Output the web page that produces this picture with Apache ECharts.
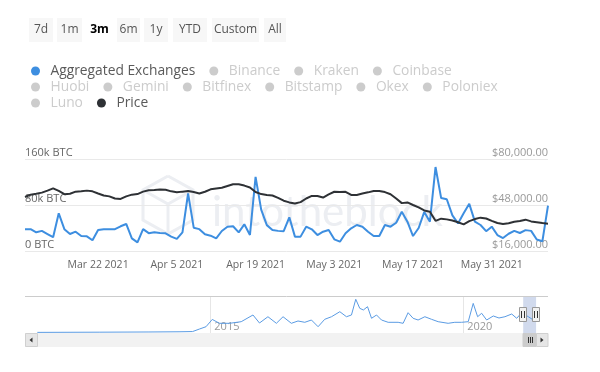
<!DOCTYPE html>
<html>
<head>
<meta charset="utf-8">
<script src="https://cdn.jsdelivr.net/npm/echarts@6/dist/echarts.min.js"></script>
<style>
html,body{margin:0;padding:0;background:#fff;}
#chart{width:600px;height:372px;}
</style>
</head>
<body>
<div id="chart"></div>
<script>
// ---------- DATA ----------
const startDate = '2021-03-09';
const aggregatedExchanges = [
  38000, 38000, 32500, 35000, 29500, 24000, 65500, 38000, 29500, 33600,
  26000, 25500, 18600, 36500, 37700, 37700, 38000, 43000, 47000, 22000,
  15000, 38000, 31000, 32500, 31300, 30800, 25000, 21000, 32500, 100000,
  40500, 38000, 29000, 26600, 22000, 34800, 42300, 43000, 32500, 46400,
  27800, 129000, 72000, 45000, 36500, 35000, 34500, 58600, 25000, 25000,
  42300, 37700, 27800, 33600, 36500, 20300, 16200, 30800, 39500, 45200,
  42300, 33600, 26000, 26000, 45200, 42300, 49200, 68300, 51000, 26000,
  40000, 68000, 51000, 146000, 92000, 90000, 62000, 48000, 65600, 82000,
  51000, 45200, 34500, 42300, 27800, 22500, 30000, 35000, 31300, 36300,
  35000, 20000, 17000, 79000
];
const price = [
  53600, 55200, 55800, 56600, 58000, 59600, 57800, 55500, 55800, 57300,
  57500, 58000, 57500, 56000, 54600, 54000, 52500, 52200, 54000, 55200,
  55600, 57300, 58200, 58400, 58800, 58600, 57500, 56800, 57300, 57700,
  57000, 56000, 57200, 58900, 59500, 60000, 61200, 62400, 62400, 61500,
  60200, 57000, 55600, 55000, 54600, 53000, 51000, 49800, 49000, 50000,
  52500, 54300, 54300, 53200, 55400, 57200, 57000, 57200, 55000, 55000,
  56000, 56800, 57700, 57800, 57000, 55500, 52500, 49300, 49800, 48000,
  46300, 44200, 43300, 37000, 38500, 38000, 37200, 36000, 34500, 36800,
  38200, 39200, 38600, 37000, 35500, 34800, 35300, 36400, 36900, 37800,
  36600, 36000, 35400, 35000
];
const xTickLabels = ['Mar 22 2021', 'Apr 5 2021', 'Apr 19 2021', 'May 3 2021', 'May 17 2021', 'May 31 2021'];
const rightTicks = [16000, 48000, 80000];
const legendRow1 = ['Aggregated Exchanges', 'Binance', 'Kraken', 'Coinbase'];
const legendRow2 = ['Huobi', 'Gemini', 'Bitfinex', 'Bitstamp', 'Okex', 'Poloniex'];
const legendRow3 = ['Luno', 'Price'];
const rangeButtons = ['7d', '1m', '3m', '6m', '1y', 'YTD', 'Custom', 'All'];
const selectedButton = '3m';
// navigator (full history) – approximate, in BTC
const navDates = [
  '2011-08-01', '2012-10-20', '2013-10-15', '2014-05-20', '2014-08-26', '2014-10-15', '2014-12-01',
  '2015-01-15', '2015-03-08', '2015-05-20', '2015-08-12', '2015-11-05', '2015-12-22', '2016-02-21',
  '2016-04-22', '2016-06-09', '2016-08-08', '2016-09-25', '2016-11-13', '2016-12-31', '2017-02-17',
  '2017-04-06', '2017-05-25', '2017-07-24', '2017-09-10', '2017-10-16', '2017-11-16', '2017-12-15',
  '2018-01-10', '2018-02-09', '2018-03-10', '2018-04-15', '2018-05-21', '2018-07-08', '2018-09-18',
  '2018-10-24', '2018-11-29', '2019-01-04', '2019-02-09', '2019-03-30', '2019-05-17', '2019-07-04',
  '2019-09-14', '2019-11-01', '2019-12-20', '2020-02-06', '2020-03-13', '2020-04-14', '2020-05-13',
  '2020-06-18', '2020-08-05', '2020-09-15', '2020-10-28', '2020-12-16', '2021-01-21', '2021-02-26',
  '2021-04-15', '2021-05-21', '2021-06-10'
];
const navValues = [
  1500, 2000, 2500, 3000, 3500, 9700, 15300,
  33000, 23600, 23600, 27500, 43800, 24300, 39600,
  23600, 39600, 23600, 29200, 26000, 31600, 15300,
  33300, 39600, 51800, 39600, 43800, 82000, 60000,
  56000, 64000, 35800, 43800, 31600, 26000, 26000,
  23600, 49400, 35800, 31600, 39600, 33300, 27500,
  23600, 26000, 26000, 27500, 72000, 39600, 48000,
  31600, 41400, 36500, 39600, 46200, 35800, 49400,
  39600, 31600, 39000
];
const navYearTicks = ['2015-01-01', '2020-01-01'];

// ---------- BUILD ----------
const MONTHS = ['Jan','Feb','Mar','Apr','May','Jun','Jul','Aug','Sep','Oct','Nov','Dec'];
const DAY = 86400000;
const toMs = s => Date.parse(s + 'T00:00:00Z');
const t0 = toMs(startDate);
const categories = aggregatedExchanges.map((_, i) => {
  const d = new Date(t0 + i * DAY);
  return MONTHS[d.getUTCMonth()] + ' ' + d.getUTCDate() + ' ' + d.getUTCFullYear();
});
const tEnd = t0 + (aggregatedExchanges.length - 1) * DAY;

const FONT = 'Open Sans';
const BLUE = '#3d8ee0';
const DARK = '#2e3135';
const allNames = legendRow1.concat(legendRow2, legendRow3);
const selected = {};
allNames.forEach(n => { selected[n] = (n === 'Aggregated Exchanges' || n === 'Price'); });

function makeLegend(data, top) {
  return {
    data: data, top: top, left: 31, orient: 'horizontal', padding: 0,
    icon: 'circle', itemWidth: 20, itemHeight: 9, itemGap: 14,
    selected: selected, inactiveColor: '#cccccc', inactiveBorderColor: '#cccccc',
    textStyle: { fontFamily: FONT, fontSize: 13.8, color: '#5a5a5a', lineHeight: 14, padding: 0 }
  };
}

const series = allNames.map(n => {
  if (n === 'Aggregated Exchanges') {
    return { name: n, type: 'line', xAxisIndex: 0, yAxisIndex: 0, data: aggregatedExchanges,
      showSymbol: false, symbol: 'circle', color: BLUE, lineStyle: { width: 2, color: BLUE }, z: 3 };
  }
  if (n === 'Price') {
    return { name: n, type: 'line', xAxisIndex: 0, yAxisIndex: 1, data: price,
      showSymbol: false, symbol: 'circle', color: DARK, lineStyle: { width: 2, color: DARK }, z: 4 };
  }
  return { name: n, type: 'line', xAxisIndex: 0, yAxisIndex: 0, data: [], color: '#cccccc', showSymbol: false };
});
series.push({
  name: 'navigator', type: 'line', xAxisIndex: 1, yAxisIndex: 2,
  data: navDates.map((d, i) => [toMs(d), navValues[i]]),
  showSymbol: false, color: '#5a9be3', lineStyle: { width: 1, color: '#5a9be3' },
  markArea: { silent: true, itemStyle: { color: 'rgba(102,133,194,0.3)' },
    data: [[{ xAxis: t0 }, { xAxis: tEnd }]] }
});

// buttons
const btnGeom = { '7d': [29, 24], '1m': [57, 25], '3m': [86, 27], '6m': [117, 23], '1y': [144, 24], 'YTD': [173, 34], 'Custom': [212, 47], 'All': [264, 22] };
const graphics = [];
rangeButtons.forEach(b => {
  const [x, w] = btnGeom[b];
  const sel = b === selectedButton;
  graphics.push({ type: 'rect', shape: { x: x, y: 18, width: w, height: 24 }, style: { fill: sel ? '#ffffff' : '#f7f7f7' }, z: 1 });
  graphics.push({ type: 'text', x: x + w / 2, y: 30, style: { text: b, font: (sel ? 'bold ' : '') + '12px "Open Sans"', fill: sel ? '#000' : '#555', align: 'center', verticalAlign: 'middle' }, z: 2 });
});
// watermark
const WM = '#eceef2';
graphics.push({ type: 'polyline', shape: { points: [[168, 176], [193, 190], [193, 220], [168, 234], [143, 220], [143, 190], [168, 176]] }, style: { stroke: WM, lineWidth: 3, fill: null }, z: 0 });
graphics.push({ type: 'polyline', shape: { points: [[143, 190], [168, 204], [193, 190]] }, style: { stroke: WM, lineWidth: 3, fill: null }, z: 0 });
graphics.push({ type: 'line', shape: { x1: 168, y1: 204, x2: 168, y2: 234 }, style: { stroke: WM, lineWidth: 3 }, z: 0 });
graphics.push({ type: 'text', x: 212, y: 212, style: { text: 'intotheblock', font: '42px Lato', fill: WM, align: 'left', verticalAlign: 'middle' }, z: 0 });
// navigator top outline
graphics.push({ type: 'line', shape: { x1: 25, y1: 296.5, x2: 548, y2: 296.5 }, style: { stroke: '#cccccc', lineWidth: 1 }, z: 5 });
// scrollbar
graphics.push({ type: 'rect', shape: { x: 25, y: 333, width: 523, height: 14 }, style: { fill: '#f2f2f2' }, z: 5 });
graphics.push({ type: 'rect', shape: { x: 25.5, y: 333.5, width: 12, height: 13 }, style: { fill: '#e6e6e6', stroke: '#d0d0d0', lineWidth: 1 }, z: 6 });
graphics.push({ type: 'polygon', shape: { points: [[29.5, 340], [32.5, 337.5], [32.5, 342.5]] }, style: { fill: '#333' }, z: 7 });
graphics.push({ type: 'rect', shape: { x: 536.5, y: 333.5, width: 11.5, height: 13 }, style: { fill: '#e6e6e6', stroke: '#d0d0d0', lineWidth: 1 }, z: 6 });
graphics.push({ type: 'polygon', shape: { points: [[543.5, 340], [540.5, 337.5], [540.5, 342.5]] }, style: { fill: '#333' }, z: 7 });

const chart = echarts.init(document.getElementById('chart'), null, { renderer: 'canvas' });
const option = {
  backgroundColor: '#ffffff',
  animation: false,
  textStyle: { fontFamily: FONT },
  legend: [makeLegend(legendRow1, 64), makeLegend(legendRow2, 80), makeLegend(legendRow3, 96)],
  grid: [
    { left: 25, right: 52, top: 159, height: 92 },
    { left: 25, right: 52, top: 296, height: 37 }
  ],
  xAxis: [
    { type: 'category', gridIndex: 0, data: categories, boundaryGap: false,
      axisLine: { show: false }, axisTick: { show: false }, splitLine: { show: false },
      axisLabel: { interval: (idx, val) => xTickLabels.indexOf(val) >= 0, margin: 9, fontFamily: FONT, fontSize: 10.5, color: '#666' } },
    { type: 'value', gridIndex: 1, min: toMs('2011-05-04'), max: toMs('2021-09-04'), scale: true,
      axisLine: { show: false },
      axisTick: { show: false, customValues: navYearTicks.map(toMs) },
      splitLine: { show: true, lineStyle: { color: '#e6e6e6', width: 1 } },
      axisLabel: { inside: true, customValues: navYearTicks.map(toMs), formatter: v => String(new Date(v).getUTCFullYear()),
        align: 'left', verticalAlign: 'bottom', padding: [0, 0, 0, 4], margin: 1, fontFamily: FONT, fontSize: 11, color: '#999' } }
  ],
  yAxis: [
    { type: 'value', gridIndex: 0, position: 'left', min: 0, max: 160000, interval: 80000,
      axisLine: { show: false }, axisTick: { show: false },
      splitLine: { show: true, lineStyle: { color: '#e9e9e9', width: 1 } },
      axisLabel: { inside: true, margin: 0, verticalAlign: 'bottom', lineHeight: 13, fontFamily: FONT, fontSize: 11, color: '#666',
        formatter: v => v === 0 ? '0 BTC' : (v / 1000) + 'k BTC' } },
    { type: 'value', gridIndex: 0, position: 'right', min: 16000, max: 80000,
      axisLine: { show: false }, axisTick: { show: false, customValues: rightTicks }, splitLine: { show: false },
      axisLabel: { inside: true, margin: 0, customValues: rightTicks, verticalAlign: 'bottom', lineHeight: 13, fontFamily: FONT, fontSize: 11, color: '#999',
        formatter: v => '$' + v.toLocaleString('en-US', { minimumFractionDigits: 2, maximumFractionDigits: 2 }) } },
    { type: 'value', gridIndex: 1, min: 0, max: 90000, show: false, splitLine: { show: false } }
  ],
  series: series,
  graphic: graphics
};
chart.setOption(option);

// navigator handles and scrollbar thumb, placed from the navigator scale
const xa = chart.convertToPixel({ xAxisIndex: 1 }, t0);
const xb = chart.convertToPixel({ xAxisIndex: 1 }, tEnd);
const extra = [];
[xa, xb].forEach(x => {
  const r = Math.round(x);
  extra.push({ type: 'rect', shape: { x: r - 3.5, y: 307.5, width: 7, height: 14 }, style: { fill: '#f2f2f2', stroke: '#999', lineWidth: 1 }, z: 20 });
  extra.push({ type: 'line', shape: { x1: r - 1.5, y1: 311, x2: r - 1.5, y2: 318 }, style: { stroke: '#333', lineWidth: 1 }, z: 21 });
  extra.push({ type: 'line', shape: { x1: r + 1.5, y1: 311, x2: r + 1.5, y2: 318 }, style: { stroke: '#333', lineWidth: 1 }, z: 21 });
});
extra.push({ type: 'rect', shape: { x: Math.round(xa), y: 333.5, width: Math.round(xb - xa), height: 13 }, style: { fill: '#cccccc', stroke: '#cccccc' }, z: 20 });
const cx = Math.round((xa + xb) / 2);
[-2, 0, 2].forEach(d => extra.push({ type: 'line', shape: { x1: cx + d + 0.5, y1: 337, x2: cx + d + 0.5, y2: 343 }, style: { stroke: '#333', lineWidth: 1 }, z: 21 }));
chart.setOption({ graphic: graphics.concat(extra) });
</script>
</body>
</html>
